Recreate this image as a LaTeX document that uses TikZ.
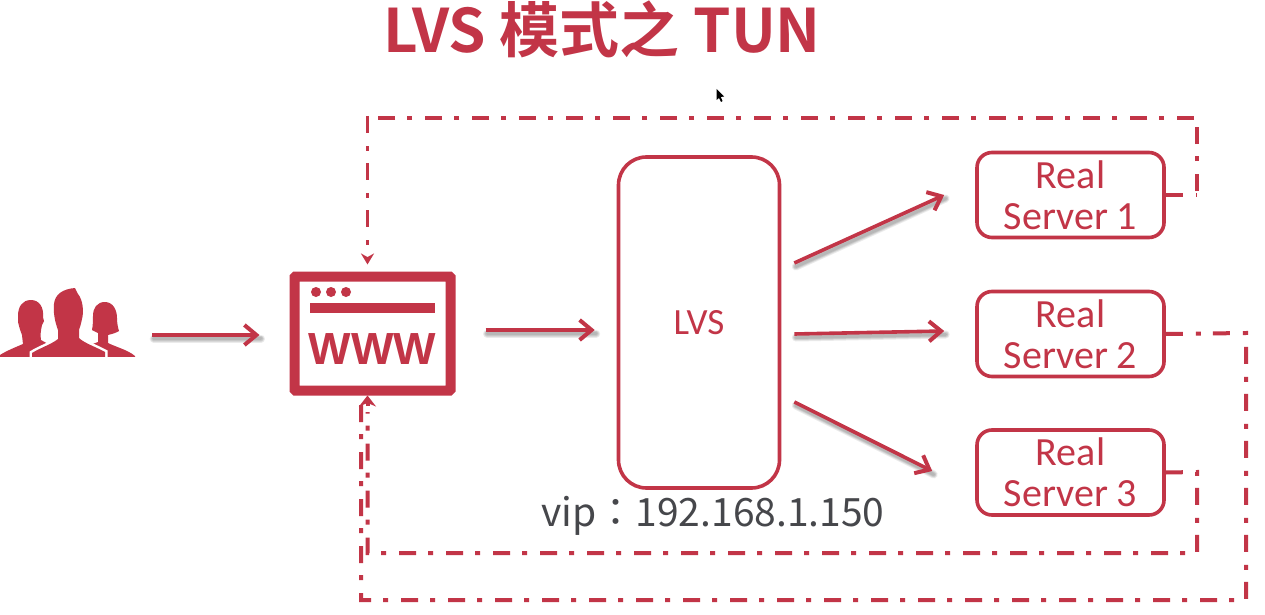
\documentclass[tikz,border=0pt]{standalone}
\usepackage{fontspec}
\usetikzlibrary{arrows.meta}
\setmainfont{Carlito}
\newfontfamily\cjkbold{Noto Sans CJK SC Bold}
\newfontfamily\cjkreg{Noto Sans CJK TC}
\newfontfamily\iconfont{Liberation Sans Bold}
\definecolor{brand}{HTML}{C23547}
\definecolor{caption}{HTML}{46474B}
\tikzset{
  x=1pt, y=-1pt,
  box/.style={draw=brand, line width=3.6pt, rounded corners=15pt, fill=white, align=center,
    text=brand, font=\fontsize{40}{41}\selectfont, inner sep=0pt},
  serverbox/.style={box, minimum width=187pt, minimum height=85pt},
  flow/.style={draw=brand, line width=3.6pt, -{Straight Barb[length=12pt,width=20pt,line width=4pt]}},
  flowshade/.style={draw=black, opacity=0.08, line cap=round},
  reply/.style={draw=brand, line width=4pt, dash pattern=on 17pt off 13pt on 5pt off 12pt},
  replytip/.style={reply, -{Stealth[length=11pt,width=13pt,fill=brand]}},
  person/.style={fill=brand, draw=none},
  gapped/.style={fill=brand, preaction={draw=white, line width=5pt}}
}
% Arrow with a soft drop shadow underneath
\newcommand{\flowarrow}[2]{%
  \foreach \w in {8,6,4.5,3}{\draw[flowshade, line width=\w pt, transform canvas={shift={(1.5pt,-3.5pt)}}] #1 -- #2;}
  \draw[flow] #1 -- #2;
}
\begin{document}
\begin{tikzpicture}
\useasboundingbox[fill=white] (0,0) rectangle (1265,615);

% Title and caption
\node[text=brand, font=\cjkbold\fontsize{60}{64}\selectfont, inner sep=0pt] (title) at (602,29) {LVS 模式之 TUN};
\node[text=caption, font=\cjkreg\fontsize{39}{42}\selectfont, inner sep=0pt] (vip) at (713,516) {vip：192.168.1.150};

% Pointer
\fill[black] (716.5,89) -- (716.5,100) -- (719,98) -- (721,102) -- (722.5,101) -- (720.8,97) -- (724,96.5) -- cycle;

% Group of users
\node[minimum width=135pt, minimum height=68pt, inner sep=0pt] (users) at (67.5,323) {};
\path[person] (31,300) .. controls (39,300) and (44,307) .. (43,317) -- (44,321) -- (42,325)
  .. controls (41,330) and (40,335) .. (41,340) -- (50,345) -- (30,357) -- (0,357) -- (0,355)
  .. controls (6,351) and (16,347) .. (23,344) -- (22,335)
  .. controls (20,330) and (19,326) .. (18,322) -- (18,316) .. controls (18,307) and (22,300) .. (31,300) -- cycle;
\path[person] (105,302) .. controls (113,302) and (117,310) .. (117,318)
  .. controls (117,323) and (118,328) .. (119,331) .. controls (116,333) and (112,334) .. (108,335)
  -- (108,343) .. controls (116,347) and (128,350) .. (135,356) -- (135,357) -- (100,357) -- (90,345) -- (98,342) -- (98,333)
  .. controls (96,332) and (94,331) .. (92,330) .. controls (93,325) and (93,320) .. (93,316)
  .. controls (93,308) and (97,302) .. (105,302) -- cycle;
\path[gapped] (75,288) -- (78,294) .. controls (83,300) and (84,312) .. (82,319)
  .. controls (81,324) and (80,327) .. (79,330) -- (79,338) .. controls (84,343) and (96,347) .. (105,352) -- (105,357) -- (32,357) -- (32,353)
  .. controls (40,348) and (52,344) .. (58,339) -- (58,330) .. controls (55,322) and (53,312) .. (54,304)
  .. controls (55,294) and (63,289) .. (75,288) -- cycle;
\fill[white] (0,357) rectangle (140,363);

% Web front end
\node[draw=brand, line width=10pt, rounded corners=1pt, minimum width=156pt, minimum height=114pt, inner sep=0pt] (www) at (372.5,333.5) {};
\foreach \cx in {316,331,346}{\fill[brand] (\cx,292) circle (5pt);}
\fill[brand] (310,302.5) rectangle (435,313);
\node[text=brand, font=\iconfont\fontsize{45}{45}\selectfont, inner sep=0pt] (wwwlabel) at (372.5,349.5) {WWW};

% Load balancer and real servers
\node[box, minimum width=161pt, minimum height=331pt, rounded corners=28pt, font=\fontsize{37}{40}\selectfont] (lvs) at (699,322.5) {LVS};
\node[serverbox] (rs1) at (1070.5,195) {Real\\Server 1};
\node[serverbox] (rs2) at (1070.5,334) {Real\\Server 2};
\node[serverbox] (rs3) at (1070.5,472.5) {Real\\Server 3};

% Request path
\flowarrow{([xshift=17pt]users.east |- 0,335)}{([xshift=-30pt]www.west |- 0,335)}
\flowarrow{([xshift=30pt]www.east |- 0,330)}{([xshift=-22pt]lvs.west |- 0,330)}
\flowarrow{([xshift=13pt]lvs.east |- 0,263)}{([xshift=-31pt]rs1.west |- 0,195)}
\flowarrow{([xshift=13pt]lvs.east |- 0,334)}{([xshift=-31pt]rs2.west |- 0,331)}
\flowarrow{([xshift=13pt]lvs.east |- 0,402)}{([xshift=-43pt]rs3.west |- 0,471)}

% Direct replies from the servers back to the front end
\coordinate (a1) at (1197,195); \coordinate (a2) at (1197,118); \coordinate (a3) at (367.5,118);
\coordinate (b1) at (1246,333); \coordinate (b2) at (1246,600); \coordinate (b3) at (361,600);
\coordinate (c1) at (1197,472); \coordinate (c2) at (1197,553); \coordinate (c3) at (367.5,553);
\draw[reply] (rs1.east) -- (a1);
\draw[reply] (a1 |- 0,191) -- (a2);
\draw[reply] (1194,118) -- (a3);
\draw[replytip, line width=3pt] (a3 |- 0,116) -- ([yshift=7pt]a3 |- www.north);
\draw[reply] (rs2.east) -- (b1) -- (b2) -- (b3) -- (b3 |- www.south);
\draw[reply] (rs3.east) -- (c1) -- (c2) -- (c3) -- (c3 |- 0,412);
\draw[-{Stealth[length=11pt,width=17pt,fill=brand]}, draw=brand, line width=4pt] (c3 |- 0,406) -- (c3 |- www.south);
\end{tikzpicture}
\end{document}
